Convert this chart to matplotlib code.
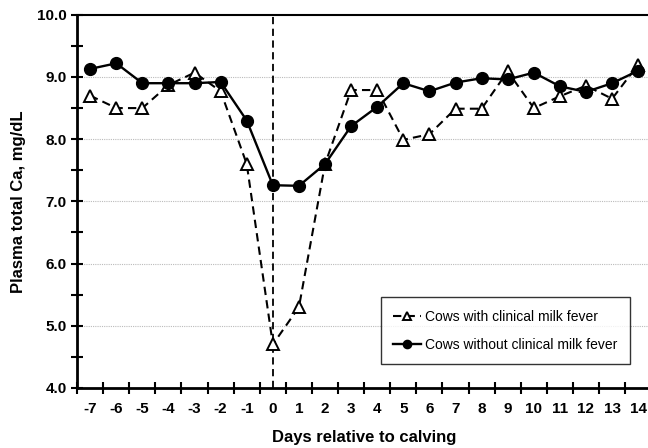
import numpy as np
import matplotlib.pyplot as plt
from matplotlib.ticker import FixedLocator, MultipleLocator, FormatStrFormatter

plt.rcParams['font.family'] = ['Liberation Sans', 'DejaVu Sans']

days = list(range(-7, 15))
ca_fever = [8.7, 8.5, 8.5, 8.87, 9.07, 8.77, 7.6, 4.7, 5.3, 7.6, 8.79,
            8.79, 7.99, 8.08, 8.49, 8.49, 9.09, 8.5, 8.69, 8.86, 8.65, 9.2]
ca_no_fever = [9.13, 9.22, 8.9, 8.9, 8.9, 8.92, 8.3, 7.26, 7.25, 7.6, 8.21,
               8.52, 8.9, 8.77, 8.91, 8.98, 8.96, 9.07, 8.85, 8.76, 8.9, 9.1]

fig = plt.figure(figsize=(6.48, 4.48), dpi=100)
ax = fig.add_axes([0.119, 0.134, 0.886, 0.833])

for y in [5, 6, 7, 8, 9]:
    ax.axhline(y, color='#bbbbbb', lw=0.8, ls=(0, (1, 1)), zorder=0)
ax.axvline(0, color='black', lw=1.3, ls=(0, (4, 2.5)), zorder=1)

ax.plot(days, ca_fever, color='black', lw=1.5, ls=(0, (4, 2.5)), marker='^',
        ms=8.5, mfc='white', mec='black', mew=1.4, label='Cows with clinical milk fever', zorder=3)
ax.plot(days, ca_no_fever, color='black', lw=1.7, marker='o', ms=8.5,
        mfc='black', mec='black', label='Cows without clinical milk fever', zorder=4)

ax.set_xlim(-7.5, 14.5)
ax.set_ylim(4.0, 10.0)
ax.xaxis.set_major_locator(FixedLocator(np.arange(-7.5, 14.6, 1)))
ax.set_xticklabels([])
for d in days:
    ax.text(d, 3.78, str(d), ha='center', va='top', fontsize=11, fontweight='bold')
ax.yaxis.set_major_locator(MultipleLocator(1.0))
ax.yaxis.set_minor_locator(MultipleLocator(0.5))
ax.yaxis.set_major_formatter(FormatStrFormatter('%.1f'))
for lbl in ax.get_yticklabels():
    lbl.set_fontsize(11)
    lbl.set_fontweight('bold')
ax.tick_params(axis='x', which='major', direction='inout', length=9, width=1.5)
ax.tick_params(axis='y', which='both', direction='inout', length=9, width=1.5, pad=3,
               labelsize=11)

ax.spines['left'].set_linewidth(2)
ax.spines['bottom'].set_linewidth(2)
ax.spines['top'].set_linewidth(1.5)
ax.spines['right'].set_visible(False)

ax.set_xlabel('Days relative to calving', fontsize=12, fontweight='bold', labelpad=22)
ax.set_ylabel('Plasma total Ca, mg/dL', fontsize=12, fontweight='bold', labelpad=8)

leg = ax.legend(loc='lower right', bbox_to_anchor=(0.975, 0.045), fontsize=10,
                frameon=True, fancybox=False, edgecolor='black', handlelength=2.0,
                borderpad=0.9, labelspacing=1.0, markerscale=0.7, handletextpad=0.3)
leg.get_frame().set_linewidth(1.0)

fig.savefig('out.png', dpi=100)
